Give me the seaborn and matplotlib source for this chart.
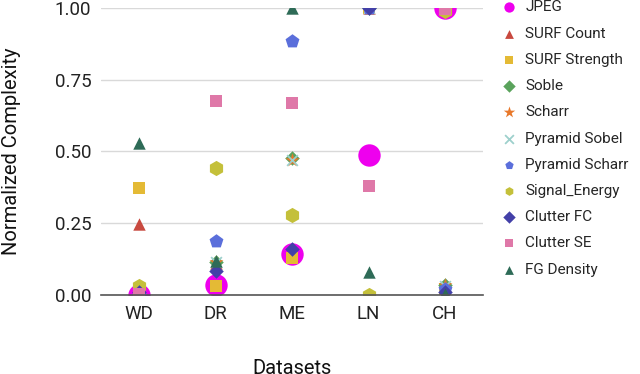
import matplotlib
matplotlib.use("Agg")
import matplotlib.pyplot as plt
import seaborn as sns

datasets = ["WD", "DR", "ME", "LN", "CH"]

jpeg = [0.0, 0.035, 0.143, 0.488, 1.0]
surf_count = [0.247, 0.11, 0.14, 1.0, 0.03]
surf_strength = [0.373, 0.03, 0.13, 1.0, 0.02]
soble = [0.0, 0.115, 0.477, 1.0, 0.035]
scharr = [0.0, 0.115, 0.47, 1.0, 0.035]
pyramid_sobel = [0.0, 0.115, 0.47, 1.0, 0.03]
pyramid_scharr = [0.0, 0.19, 0.885, 1.0, 0.02]
signal_energy = [0.03, 0.442, 0.28, 0.0, 0.99]
clutter_fc = [0.01, 0.083, 0.16, 1.0, 0.01]
clutter_se = [0.005, 0.676, 0.668, 0.38, 0.995]
fg_density = [0.53, 0.12, 1.0, 0.08, 0.005]

methods = ["JPEG", "SURF Count", "SURF Strength", "Soble", "Scharr", "Pyramid Sobel",
           "Pyramid Scharr", "Signal_Energy", "Clutter FC", "Clutter SE", "FG Density"]
values = [jpeg, surf_count, surf_strength, soble, scharr, pyramid_sobel,
          pyramid_scharr, signal_energy, clutter_fc, clutter_se, fg_density]
markers = ["o", "^", "s", "D", "*", "x", "p", "h", "D", "s", "^"]
colors = ["#EE00EE", "#C8493F", "#E4BA35", "#5AA35C", "#E8782A", "#9ED0CC",
          "#5B6FDB", "#C4C03A", "#4340A8", "#DF78A8", "#2E6B57"]
sizes = [260, 80, 70, 55, 110, 60, 110, 120, 55, 70, 80]

sns.set_style("whitegrid")
plt.rcParams["font.family"] = ["Roboto", "DejaVu Sans"]

fig = plt.figure(figsize=(6.4, 3.74), dpi=100)
ax = fig.add_axes([0.158, 0.211, 0.597, 0.768])

for name, vals, mk, col, sz in zip(methods, values, markers, colors, sizes):
    lw = 1.3 if mk == "x" else 0
    sns.scatterplot(x=datasets, y=vals, marker=mk, color=col, s=sz, label=name,
                    linewidth=lw, ax=ax)

ax.set_xlim(-0.5, 4.5)
ax.set_ylim(0, 1)
ax.set_yticks([0, 0.25, 0.5, 0.75, 1.0])
ax.set_yticklabels(["0.00", "0.25", "0.50", "0.75", "1.00"])
ax.grid(axis="x", visible=False)
ax.grid(axis="y", color="#d9d9d9", linewidth=1)
for s in ["left", "right", "top"]:
    ax.spines[s].set_visible(False)
ax.spines["bottom"].set_color("#555555")
ax.spines["bottom"].set_linewidth(1.2)
ax.tick_params(axis="both", length=0, labelsize=13.5, colors="#222222", pad=7)
ax.set_xlabel("Datasets", fontsize=14.5, color="#111111", labelpad=26)
ax.set_ylabel("Normalized Complexity", fontsize=14.5, color="#111111", labelpad=24)

leg = ax.legend(loc="upper left", bbox_to_anchor=(1.02, 1.047), frameon=False,
                fontsize=11, handlelength=1.6, handletextpad=0.25,
                labelspacing=0.8, borderaxespad=0)
for h, mk in zip(leg.legend_handles, markers):
    h.set_sizes([75 if mk == "*" else (55 if mk == "o" else 40)])

fig.savefig("out.png", dpi=100)
